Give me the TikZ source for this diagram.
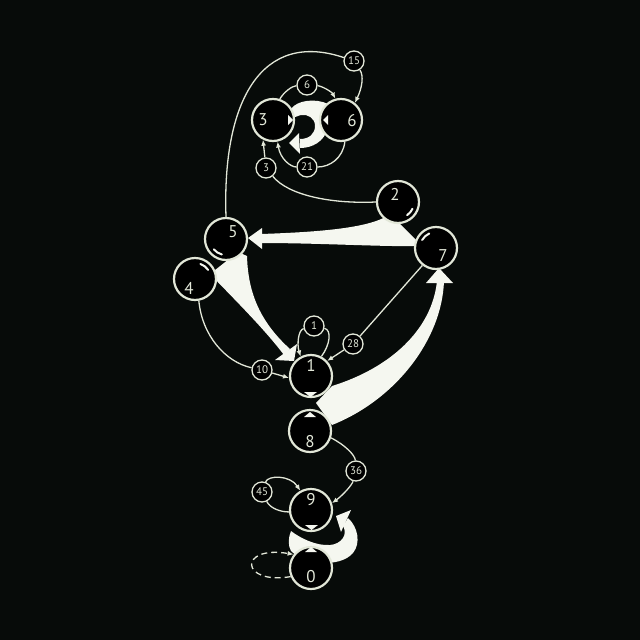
\documentclass[tikz,border=0pt]{standalone}
\usepackage{fontspec}
\setmainfont{PT Sans}
\usetikzlibrary{arrows.meta}
\definecolor{bgc}{HTML}{070B09}
\definecolor{fgc}{HTML}{E2E7D8}
\definecolor{bandc}{HTML}{F5F7F0}
\begin{document}
\begin{tikzpicture}[x=1pt,y=-1pt,
  bignode/.style={circle, draw=fgc, fill=black, line width=2.2pt, minimum size=42pt, inner sep=0pt},
  numlab/.style={text=fgc, font=\fontsize{17}{17}\selectfont, inner sep=0pt},
  edgelab/.style={circle, draw=fgc, fill=black, line width=1.3pt, minimum size=20pt, inner sep=0pt, text=fgc, font=\fontsize{11}{11}\selectfont},
  conn/.style={draw=fgc, line width=1.3pt},
  arr/.style={-{Latex[length=6pt,width=5pt]}},
  band/.style={fill=bandc, draw=none},
  hilite/.style={draw=bandc, line width=2pt, line cap=round},
  tri/.style={fill=bandc, draw=none}
]
\fill[bgc] (0,0) rectangle (640,640);
\useasboundingbox (0,0) rectangle (640,640);
% centres
\coordinate (c3) at (273,120);
\coordinate (c6) at (341,120);
\coordinate (c2) at (398,202);
\coordinate (c5) at (226,239);
\coordinate (c7) at (436,248);
\coordinate (c4) at (195,279);
\coordinate (c1) at (311,376);
\coordinate (c8) at (310,431);
\coordinate (c9) at (311,510);
\coordinate (c0) at (311,568);
% wide bands
\fill[band] (261,234) .. controls (320,232) and (372,228) .. (390,214) -- (422,246) .. controls (385,247) and (320,243) .. (261,243) -- cycle;
\fill[band] (248,238) -- (262,228) -- (262,249) -- cycle;
\fill[band] (284,355) .. controls (265,330) and (240,305) .. (210,274) -- (238,252) -- (247,256) .. controls (248,290) and (258,320) .. (290,349) -- cycle;
\fill[band] (294,361) -- (297,344) -- (275,360) -- cycle;
\fill[band] (437,281) .. controls (432,330) and (390,368) .. (332,386) -- (316,403) -- (332,425) .. controls (395,400) and (442,340) .. (444,281) -- cycle;
\fill[band] (439,268) -- (453,283) -- (426,283) -- cycle;
\fill[band] (291,109) .. controls (297,100) and (316,98) .. (328,104) -- (328,128) .. controls (324,142) and (312,148) .. (300,148) -- (300,139) .. controls (309,139) and (315,134) .. (315,126) .. controls (315,118) and (308,114) .. (301,115) .. controls (297,116) and (294,118) .. (291,118) -- cycle;
\fill[band] (289,143) -- (299,133) -- (300,154) -- cycle;
\fill[band] (291,531) .. controls (288,538) and (288,546) .. (291,551) .. controls (305,565) and (340,568) .. (353,553) .. controls (361,543) and (358,527) .. (348,518) -- (343,526) .. controls (348,534) and (342,544) .. (330,545) .. controls (316,546) and (300,538) .. (291,531) -- cycle;
\fill[band] (336,516) -- (351,510) -- (341,532) -- cycle;
% nodes
\node[bignode] (n3) at (c3) {};
\node[bignode] (n6) at (c6) {};
\node[bignode] (n2) at (c2) {};
\node[bignode] (n5) at (c5) {};
\node[bignode] (n7) at (c7) {};
\node[bignode] (n4) at (c4) {};
\node[bignode] (n1) at (c1) {};
\node[bignode] (n8) at (c8) {};
\node[bignode] (n9) at (c9) {};
\node[bignode] (n0) at (c0) {};
% edge labels
\node[edgelab] (e15) at (354,61) {15};
\node[edgelab] (e6) at (307,85) {6};
\node[edgelab] (e21) at (307,167) {21};
\node[edgelab] (e3) at (266,168) {3};
\node[edgelab] (e1) at (314,326) {1};
\node[edgelab] (e28) at (353,344) {28};
\node[edgelab] (e10) at (262,370) {10};
\node[edgelab] (e36) at (356,471) {36};
\node[edgelab] (e45) at (262,492) {45};
% connectors
\draw[conn] (n5.north) .. controls (222,100) and (262,30) .. (e15);
\draw[conn,arr] (e15) .. controls (364,76) and (362,88) .. (n6.51);
\draw[conn] (n3.72) .. controls (284,92) and (292,86) .. (e6);
\draw[conn,arr] (e6) .. controls (322,86) and (332,92) .. (n6.105);
\draw[conn] (n6.-80) .. controls (343,158) and (330,167) .. (e21);
\draw[conn,arr] (e21) .. controls (290,167) and (280,158) .. (n3.-78);
\draw[conn] (n2.180) .. controls (330,204) and (288,195) .. (e3);
\draw[conn,arr] (e3) -- (n3.-117);
\draw[conn] (n4.-80) .. controls (202,335) and (225,362) .. (e10);
\draw[conn,arr] (e10) -- (n1.185);
\draw[conn] (n7.232) -- (e28);
\draw[conn,arr] (e28) -- (n1.43);
\draw[conn] (n1.62) .. controls (330,345) and (332,330) .. (e1);
\draw[conn,arr] (e1) .. controls (298,330) and (297,345) .. (n1.118);
\draw[conn] (n8.-18) .. controls (345,445) and (355,455) .. (e36);
\draw[conn,arr] (e36) .. controls (352,485) and (343,495) .. (n9.18);
\draw[conn] (n9.185) .. controls (280,512) and (270,508) .. (e45);
\draw[conn,arr] (e45) .. controls (268,475) and (290,475) .. (n9.119);
\draw[conn,arr,dash pattern=on 6pt off 4pt] (n0.203) .. controls (240,585) and (238,545) .. (n0.142);
% small triangles
\fill[tri] (288,115) -- (293,120) -- (288,125) -- cycle;
\fill[tri] (328,115) -- (323,120) -- (328,125) -- cycle;
\fill[tri] (304,392) -- (317,392) -- (310.5,397) -- cycle;
\fill[tri] (304,417) -- (316,417) -- (310,412) -- cycle;
\fill[tri] (305,525) -- (318,525) -- (311.5,530) -- cycle;
\fill[tri] (305,552) -- (317,552) -- (311,547) -- cycle;
% highlights
\draw[hilite] (c2) ++(25:16) arc[start angle=25, end angle=55, radius=16];
\draw[hilite] (c5) ++(105:16) arc[start angle=105, end angle=140, radius=16];
\draw[hilite] (c4) ++(-70:16) arc[start angle=-70, end angle=-35, radius=16];
\draw[hilite] (c7) ++(210:16) arc[start angle=210, end angle=245, radius=16];
% node labels
\node[numlab] (t3) at (263,120) {3};
\node[numlab] (t6) at (352,121) {6};
\node[numlab] (t2) at (395,194) {2};
\node[numlab] (t5) at (233,232) {5};
\node[numlab] (t4) at (189,288) {4};
\node[numlab] (t7) at (443,256) {7};
\node[numlab] (t1) at (311,365) {1};
\node[numlab] (t8) at (310,442) {8};
\node[numlab] (t9) at (311,500) {9};
\node[numlab] (t0) at (311,577) {0};
\end{tikzpicture}
\end{document}
